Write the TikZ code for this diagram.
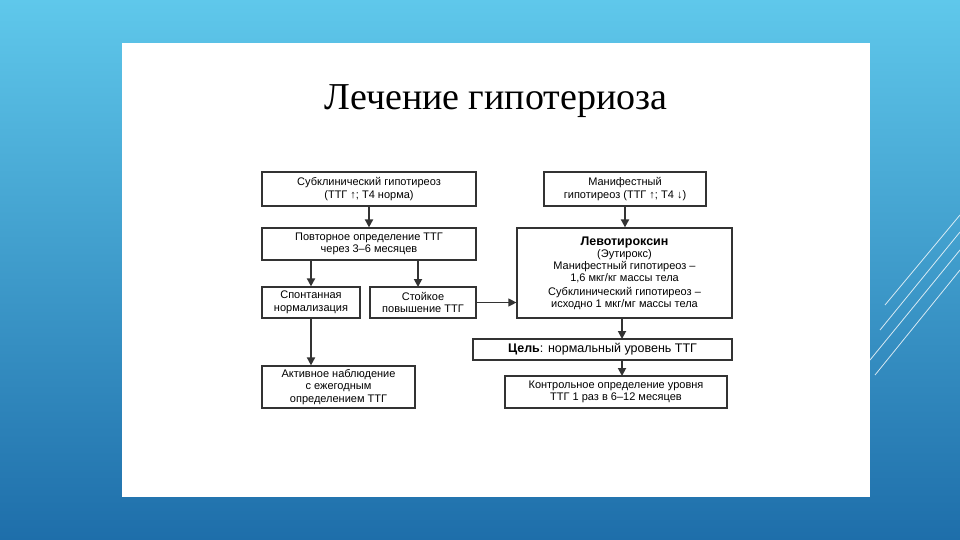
\documentclass[tikz,border=0pt]{standalone}
\usepackage{fontspec}
\setmainfont{Liberation Sans}
\newfontfamily\titlefont{Liberation Serif}
\usetikzlibrary{arrows.meta}
\definecolor{bgA}{RGB}{30,110,170}
\definecolor{bgB}{RGB}{95,200,235}
\begin{document}
\begin{tikzpicture}[x=1pt,y=-1pt,
  box/.style={draw=black!80,line width=1.2pt,align=center,inner sep=0pt,font=\fontsize{11}{12.5}\selectfont},
  arr/.style={-{Triangle[length=8pt,width=8pt]},line width=1.8pt,draw=black!80},
  deco/.style={white,line width=0.8pt,opacity=0.8}]
\useasboundingbox (0,0) rectangle (960,540);
\shade[top color=bgB,bottom color=bgA] (0,0) rectangle (960,540);
\draw[deco] (870,360) -- (960,250);
\draw[deco] (875,375) -- (960,270);
\draw[deco] (880,330) -- (960,232);
\draw[deco] (885,305) -- (960,215);
\fill[white] (122,43) rectangle (870,497);
\node[font=\titlefont\fontsize{38}{40}\selectfont] (title) at (496,101) {Лечение гипотериоза};
\node[box,minimum width=214pt,minimum height=34pt] (b1) at (369,189) {Субклинический гипотиреоз\\(ТТГ ↑; Т4 норма)};
\node[box,minimum width=214pt,minimum height=32pt] (b2) at (369,244) {Повторное определение ТТГ\\через 3–6 месяцев};
\node[box,minimum width=98pt,minimum height=31pt] (b3) at (311,302.5) {Спонтанная\\нормализация};
\node[box,minimum width=106pt,minimum height=31pt] (b4) at (423,302.5) {Стойкое\\повышение ТТГ};
\node[box,minimum width=153pt,minimum height=42pt] (b5) at (338.5,387) {Активное наблюдение\\с ежегодным\\определением ТТГ};
\node[box,minimum width=162pt,minimum height=34pt] (r1) at (625,189) {Манифестный\\гипотиреоз (ТТГ ↑; Т4 ↓)};
\node[box,minimum width=215pt,minimum height=90pt,font=\fontsize{11}{12}\selectfont] (r2) at (624.5,273) {{\fontsize{12.5}{13}\selectfont\textbf{Левотироксин}}\\(Эутирокс)\\Манифестный гипотиреоз –\\1,6 мкг/кг массы тела\\[2pt]Субклинический гипотиреоз –\\исходно 1 мкг/мг массы тела};
\node[box,minimum width=259pt,minimum height=21pt,font=\fontsize{12.5}{13}\selectfont] (r3) at (602.5,349.5) {\textbf{Цель}: нормальный уровень ТТГ};
\node[box,minimum width=222pt,minimum height=32pt] (r4) at (616,392) {Контрольное определение уровня\\ТТГ 1 раз в 6–12 месяцев};
\draw[arr] (b1.south) -- (b2.north);
\draw[arr] (b2.south -| b3) -- (b3.north);
\draw[arr] (b2.south -| 418,0) -- (418,287);
\draw[arr] (b3.south) -- (b3.south |- b5.north);
\draw[arr,line width=1.2pt] (b4.east) -- (b4.east -| r2.west);
\draw[arr] (r1.south) -- (r1.south |- r2.north);
\draw[arr] (r2.south -| 622,0) -- (622,339);
\draw[arr] (r3.south -| 622,0) -- (622,376);
\end{tikzpicture}
\end{document}
